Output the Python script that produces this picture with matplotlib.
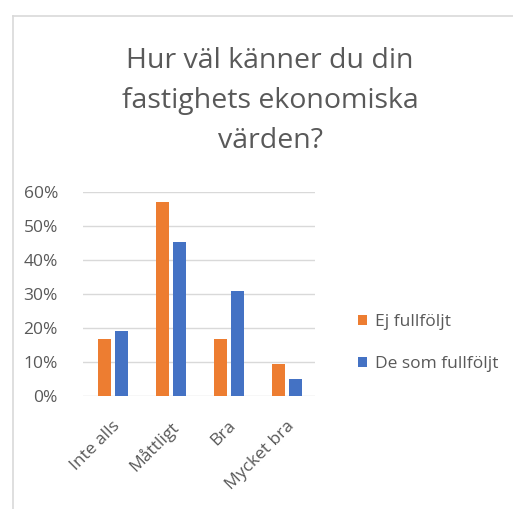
import numpy as np
import matplotlib.pyplot as plt
from matplotlib.lines import Line2D
from matplotlib.ticker import PercentFormatter

categories = ["Inte alls", "Måttligt", "Bra", "Mycket bra"]
ej_fullfoljt = [0.166, 0.570, 0.166, 0.093]
de_som_fullfoljt = [0.190, 0.453, 0.309, 0.048]
series_names = ["Ej fullföljt", "De som fullföljt"]

plt.rcParams['font.family'] = ['Open Sans', 'DejaVu Sans']

W, H = 513, 509
fig = plt.figure(figsize=(W / 100, H / 100), dpi=100)
ax = fig.add_axes([83 / W, 1 - 395.7 / H, 232 / W, 203.7 / H])

# chart border (light gray)
fig.add_artist(Line2D([13 / W, 13 / W], [1 - 16 / H, 0], transform=fig.transFigure,
                      color='#d9d9d9', lw=1.2))
fig.add_artist(Line2D([13 / W, 1], [1 - 16 / H, 1 - 16 / H], transform=fig.transFigure,
                      color='#d9d9d9', lw=1.2))

x = np.arange(len(categories))
w = 0.22
ax.bar(x - 0.13, ej_fullfoljt, w, color='#ed7d31', label=series_names[0], zorder=3)
ax.bar(x + 0.16, de_som_fullfoljt, w, color='#4472c4', label=series_names[1], zorder=3)

ax.set_xlim(-0.5, 3.5)
ax.set_ylim(0, 0.6)
ax.set_yticks(np.arange(0, 0.61, 0.1))
ax.yaxis.set_major_formatter(PercentFormatter(1.0, decimals=0))
ax.grid(axis='y', color='#d9d9d9', lw=1, zorder=0)
for s in ax.spines.values():
    s.set_visible(False)
ax.tick_params(length=0, colors='#595959', labelsize=12.5)
ax.tick_params(axis='y', pad=18)
ax.tick_params(axis='x', pad=16)
ax.set_xticks(x)
ax.set_xticklabels(categories, rotation=45, ha='right', rotation_mode='anchor')

fig.text(270 / W, 1 - 101 / H, "Hur väl känner du din\nfastighets ekonomiska\nvärden?",
         ha='center', va='center', fontsize=20.5, color='#595959', linespacing=1.55)

leg = ax.legend(loc='center left', bbox_to_anchor=(1.12, 0.26), frameon=False,
                fontsize=12.5, handlelength=0.5, handleheight=0.5, handletextpad=0.45,
                labelspacing=1.5)
for t in leg.get_texts():
    t.set_color('#595959')

fig.savefig('out.png', dpi=100)
